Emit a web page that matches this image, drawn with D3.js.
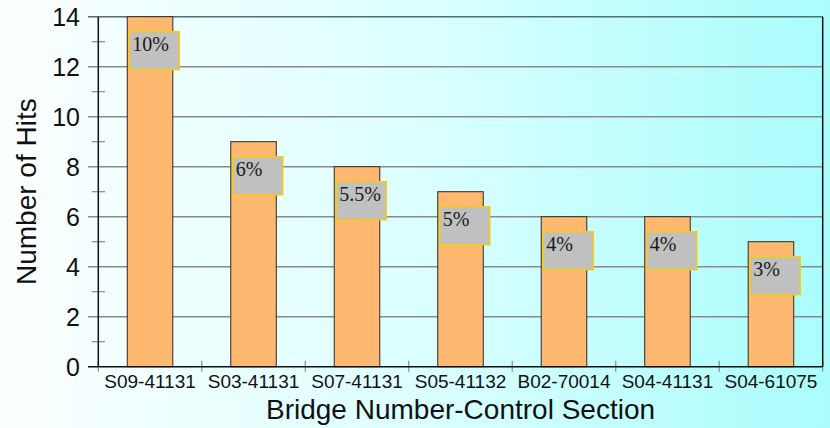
<!DOCTYPE html>
<html>
<head>
<meta charset="utf-8">
<script src="https://cdnjs.cloudflare.com/ajax/libs/d3/7.8.5/d3.min.js"></script>
<style>
  body { margin: 0; }
  svg { display: block; }
  .sans { font-family: "Liberation Sans", Arial, sans-serif; }
  .serif { font-family: "Liberation Serif", "Times New Roman", serif; }
</style>
</head>
<body>
<svg id="chart"></svg>
<script>
// data
var bridges = ["S09-41131", "S03-41131", "S07-41131", "S05-41132", "B02-70014", "S04-41131", "S04-61075"];
var hits = [14, 9, 8, 7, 6, 6, 5];
var shares = ["10%", "6%", "5.5%", "5%", "4%", "4%", "3%"];
var yTicks = [0, 2, 4, 6, 8, 10, 12, 14];
var yMinorTicks = [1, 3, 5, 7, 9, 11, 13];

var width = 830, height = 428;
// note: "top" is reserved on window, so plot edges get their own names
var plotLeft = 98.3, plotRight = 822.7, plotTop = 16.7, plotBottom = 366.7;

var svg = d3.select("#chart")
    .attr("width", width)
    .attr("height", height);

var grad = svg.append("defs").append("linearGradient")
    .attr("id", "bg")
    .attr("x1", "0").attr("x2", "1").attr("y1", "0").attr("y2", "0");
grad.append("stop").attr("offset", "0").attr("stop-color", "#fcffff");
grad.append("stop").attr("offset", "0.5").attr("stop-color", "#dcffff");
grad.append("stop").attr("offset", "1").attr("stop-color", "#aafdfd");

svg.append("rect")
    .attr("width", width)
    .attr("height", height)
    .attr("fill", "url(#bg)");

var x = d3.scaleBand()
    .domain(bridges)
    .range([plotLeft, plotRight])
    .paddingInner(0.56)
    .paddingOuter(0.28);

var y = d3.scaleLinear()
    .domain([0, 14])
    .range([plotBottom, plotTop]);

var step = x.step();
var gap = (step - x.bandwidth()) / 2;

// gridlines (also act as the major ticks, starting left of the axis)
svg.append("g").selectAll("line")
    .data(yTicks.filter(function(d) { return d > 0; }))
    .enter().append("line")
    .attr("x1", 88)
    .attr("x2", plotRight)
    .attr("y1", function(d) { return y(d); })
    .attr("y2", function(d) { return y(d); })
    .attr("stroke", function(d) { return d == 14 ? "#4f7070" : "#8a8a8a"; })
    .attr("stroke-width", 1.5);

// minor ticks crossing the axis
svg.append("g").selectAll("line")
    .data(yMinorTicks)
    .enter().append("line")
    .attr("x1", 91.7)
    .attr("x2", 105)
    .attr("y1", function(d) { return y(d); })
    .attr("y2", function(d) { return y(d); })
    .attr("stroke", "#8a8a8a")
    .attr("stroke-width", 1.2);

// y tick labels
svg.append("g").selectAll("text")
    .data(yTicks)
    .enter().append("text")
    .attr("class", "sans")
    .attr("x", 80)
    .attr("y", function(d) { return y(d); })
    .attr("dy", "0.36em")
    .attr("text-anchor", "end")
    .attr("font-size", 25)
    .attr("fill", "#111")
    .text(function(d) { return d; });

// x ticks at slot boundaries
var bounds = bridges.map(function(d) { return x(d) - gap; });
bounds.push(plotRight);
svg.append("g").selectAll("line")
    .data(bounds)
    .enter().append("line")
    .attr("x1", function(d) { return d; })
    .attr("x2", function(d) { return d; })
    .attr("y1", plotBottom - 6)
    .attr("y2", plotBottom + 5)
    .attr("stroke", "#8a8a8a")
    .attr("stroke-width", 1.2);

// bars
svg.append("g").selectAll("rect")
    .data(hits)
    .enter().append("rect")
    .attr("x", function(d, i) { return x(bridges[i]); })
    .attr("y", function(d) { return y(d); })
    .attr("width", x.bandwidth())
    .attr("height", function(d) { return plotBottom - y(d); })
    .attr("fill", "#ffb870")
    .attr("stroke", "#2a2a2a")
    .attr("stroke-width", 1);

// axis lines
svg.append("line")
    .attr("x1", plotLeft).attr("x2", plotLeft)
    .attr("y1", plotTop).attr("y2", plotBottom)
    .attr("stroke", "#111").attr("stroke-width", 1.5);
svg.append("line")
    .attr("x1", 88).attr("x2", plotRight)
    .attr("y1", plotBottom).attr("y2", plotBottom)
    .attr("stroke", "#111").attr("stroke-width", 1.5);
svg.append("line")
    .attr("x1", plotRight).attr("x2", plotRight)
    .attr("y1", plotTop).attr("y2", plotBottom)
    .attr("stroke", "#111").attr("stroke-width", 1.5);

// percent labels
var labels = svg.append("g").selectAll("g")
    .data(shares)
    .enter().append("g")
    .attr("transform", function(d, i) {
        return "translate(" + (x(bridges[i]) + 2) + "," + (y(hits[i]) + 15) + ")";
    });

labels.append("rect")
    .attr("width", 50)
    .attr("height", 38)
    .attr("fill", "#c0c0c0")
    .attr("stroke", "#f5cc10")
    .attr("stroke-width", 1.5);

labels.append("text")
    .attr("class", "serif")
    .attr("x", 3)
    .attr("y", 19)
    .attr("font-size", 20)
    .attr("fill", "#1a1a1a")
    .text(function(d) { return d; });

// x tick labels
svg.append("g").selectAll("text")
    .data(bridges)
    .enter().append("text")
    .attr("class", "sans")
    .attr("x", function(d) { return x(d) + x.bandwidth() / 2; })
    .attr("y", 388)
    .attr("text-anchor", "middle")
    .attr("font-size", 19)
    .attr("fill", "#111")
    .text(function(d) { return d; });

// axis titles
svg.append("text")
    .attr("class", "sans")
    .attr("x", (plotLeft + plotRight) / 2)
    .attr("y", 419)
    .attr("text-anchor", "middle")
    .attr("font-size", 28)
    .attr("fill", "#111")
    .text("Bridge Number-Control Section");

svg.append("text")
    .attr("class", "sans")
    .attr("transform", "translate(36," + ((plotTop + plotBottom) / 2) + ") rotate(-90)")
    .attr("text-anchor", "middle")
    .attr("font-size", 28)
    .attr("fill", "#111")
    .text("Number of Hits");
</script>
</body>
</html>
